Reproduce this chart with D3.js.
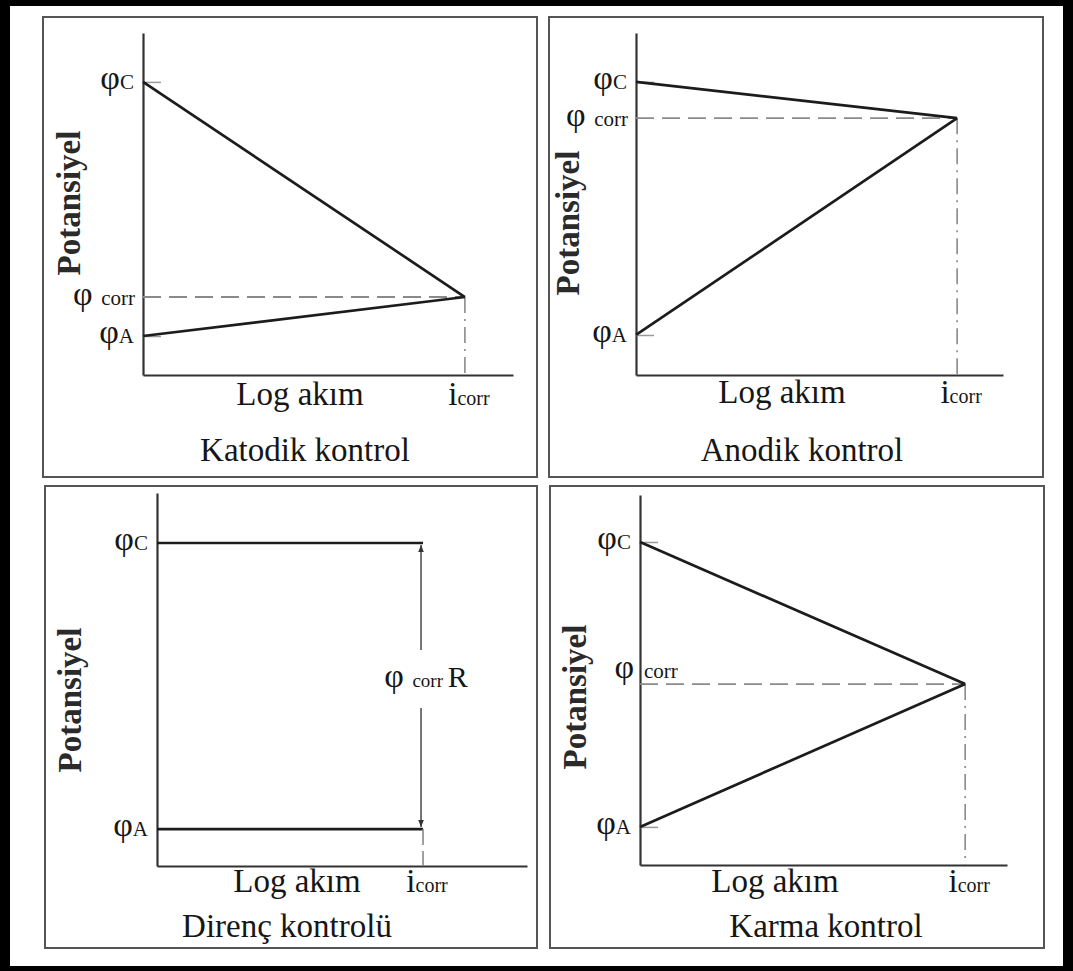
<!DOCTYPE html>
<html>
<head>
<meta charset="utf-8">
<script src="https://cdn.jsdelivr.net/npm/d3@7"></script>
<style>
  body { margin: 0; background: #fff; }
  text { font-family: "Liberation Serif", "Times New Roman", serif; fill: #161616; }
</style>
</head>
<body>
<div id="chart"></div>
<script>
// values (potential and log current on a 0..10 scale)
let panelNames = ["Katodik kontrol", "Anodik kontrol", "Direnç kontrolü", "Karma kontrol"];
let phiC    = [8.57, 8.57, 8.66, 8.73];
let phiCorr = [2.28, 7.51, null, 4.89];
let phiA    = [1.14, 1.17, 0.99, 1.03];
let iCorr   = [8.70, 8.75, 7.19, 8.86];
let yTitle = "Potansiyel";
let xTitle = "Log akım";

let svgWidth = 1073;
let svgHeight = 971;

// where each small diagram sits on the page
let layout = [
  {box: [43, 17, 494, 460],  ox: 143, oy: 375, w: 370, h: 342, ylab: [69, 203],  xlab: [300, 405], title: [305, 461]},
  {box: [549, 17, 494, 460], ox: 636, oy: 375, w: 367, h: 342, ylab: [568, 223], xlab: [782, 403], title: [802, 461]},
  {box: [45, 486, 492, 462], ox: 157, oy: 866, w: 370, h: 373, ylab: [70, 700],  xlab: [297, 892], title: [287, 937]},
  {box: [550, 486, 494, 462], ox: 640, oy: 865, w: 367, h: 370, ylab: [575, 697], xlab: [775, 892], title: [826, 937]}
];

let svg = d3.select("#chart")
  .append("svg")
  .attr("width", svgWidth)
  .attr("height", svgHeight);

// black frame
svg.append("rect").attr("width", svgWidth).attr("height", svgHeight).attr("fill", "#000");
svg.append("rect").attr("x", 10).attr("y", 6).attr("width", 1053).attr("height", 960).attr("fill", "#fff");

let defs = svg.append("defs");
defs.append("marker")
  .attr("id", "arrow")
  .attr("viewBox", "0 0 10 10")
  .attr("refX", 10).attr("refY", 5)
  .attr("markerWidth", 7).attr("markerHeight", 7)
  .attr("markerUnits", "userSpaceOnUse")
  .attr("orient", "auto")
  .append("path")
  .attr("d", "M0,1 L10,5 L0,9 Z")
  .attr("fill", "#333");

let lineColor = "#1c1c1c";
let dashColor = "#8a8a8a";
let phiSize = 34;

panelNames.forEach(function(name, i) {
  let L = layout[i];
  let g = svg.append("g");

  g.append("rect")
    .attr("x", L.box[0]).attr("y", L.box[1])
    .attr("width", L.box[2]).attr("height", L.box[3])
    .attr("fill", "none").attr("stroke", "#555").attr("stroke-width", 2);

  let x = d3.scaleLinear().domain([0, 10]).range([L.ox, L.ox + L.w]);
  let y = d3.scaleLinear().domain([0, 10]).range([L.oy, L.oy - L.h]);

  // axes: no numbers, only the lines and short marks at phiC / phiA
  let ticks = i === 2 ? [] : [phiC[i], phiA[i]];
  let leftAxis = d3.axisLeft(y).tickValues(ticks).tickFormat("").tickSize(-18).tickSizeOuter(0);
  let bottomAxis = d3.axisBottom(x).tickValues([]).tickSizeOuter(0);

  let ya = g.append("g").attr("transform", `translate(${L.ox},0)`).call(leftAxis);
  ya.select(".domain").attr("stroke", "#333").attr("stroke-width", 2.2);
  ya.selectAll(".tick line").attr("stroke", "#999").attr("stroke-width", 1.5);

  let xa = g.append("g").attr("transform", `translate(0,${L.oy})`).call(bottomAxis);
  xa.select(".domain").attr("stroke", "#333").attr("stroke-width", 2.2);

  let line = d3.line().x(d => x(d[0])).y(d => y(d[1]));

  if (phiCorr[i] !== null) {
    // dashed guide lines to the crossing point
    g.append("path")
      .attr("d", line([[0, phiCorr[i]], [iCorr[i], phiCorr[i]]]))
      .attr("stroke", dashColor).attr("stroke-width", 1.8)
      .attr("stroke-dasharray", "18,8").attr("fill", "none");
    g.append("path")
      .attr("d", line([[iCorr[i], phiCorr[i]], [iCorr[i], 0]]))
      .attr("stroke", dashColor).attr("stroke-width", 1.6)
      .attr("stroke-dasharray", "16,6,2,6").attr("fill", "none");

    // cathodic and anodic lines
    g.append("path")
      .attr("d", line([[0, phiC[i]], [iCorr[i], phiCorr[i]]]))
      .attr("stroke", lineColor).attr("stroke-width", 2.7).attr("fill", "none");
    g.append("path")
      .attr("d", line([[0, phiA[i]], [iCorr[i], phiCorr[i]]]))
      .attr("stroke", lineColor).attr("stroke-width", 2.7).attr("fill", "none");
  } else {
    // resistance control: two flat lines joined by an IR arrow
    g.append("path")
      .attr("d", line([[0, phiC[i]], [iCorr[i], phiC[i]]]))
      .attr("stroke", lineColor).attr("stroke-width", 2.7).attr("fill", "none");
    g.append("path")
      .attr("d", line([[0, phiA[i]], [iCorr[i], phiA[i]]]))
      .attr("stroke", lineColor).attr("stroke-width", 2.7).attr("fill", "none");
    g.append("path")
      .attr("d", line([[iCorr[i], phiA[i]], [iCorr[i], 0]]))
      .attr("stroke", dashColor).attr("stroke-width", 1.6)
      .attr("stroke-dasharray", "16,6").attr("fill", "none");

    let ax = x(iCorr[i]) - 2;
    let mid = (y(phiC[i]) + y(phiA[i])) / 2;
    g.append("line")
      .attr("x1", ax).attr("y1", mid - 36).attr("x2", ax).attr("y2", y(phiC[i]) + 2)
      .attr("stroke", "#555").attr("stroke-width", 1.6).attr("marker-end", "url(#arrow)");
    g.append("line")
      .attr("x1", ax).attr("y1", mid + 22).attr("x2", ax).attr("y2", y(phiA[i]) - 2)
      .attr("stroke", "#555").attr("stroke-width", 1.6).attr("marker-end", "url(#arrow)");

    let t = g.append("text").attr("x", ax + 5).attr("y", mid + 1).attr("text-anchor", "middle");
    t.append("tspan").attr("font-size", phiSize).text("φ ");
    t.append("tspan").attr("font-size", 19).text("corr ");
    t.append("tspan").attr("font-size", 30).text("R");
  }

  // potential labels on the left of the axis
  let tc = g.append("text").attr("x", L.ox - 9).attr("y", y(phiC[i]) + 7).attr("text-anchor", "end");
  tc.append("tspan").attr("font-size", phiSize).text("φ");
  tc.append("tspan").attr("font-size", 21).text("C");

  let ta = g.append("text").attr("x", L.ox - 9).attr("y", y(phiA[i]) + 7).attr("text-anchor", "end");
  ta.append("tspan").attr("font-size", phiSize).text("φ");
  ta.append("tspan").attr("font-size", 21).text("A");

  if (phiCorr[i] !== null) {
    if (i === 3) {
      // in the mixed panel the subscript sits inside the axis, above the dash
      g.append("text").attr("x", L.ox - 6).attr("y", y(phiCorr[i]) - 6)
        .attr("text-anchor", "end").attr("font-size", phiSize).text("φ");
      g.append("text").attr("x", L.ox + 4).attr("y", y(phiCorr[i]) - 6)
        .attr("font-size", 21).text("corr");
    } else {
      let tr = g.append("text").attr("x", L.ox - 8).attr("y", y(phiCorr[i]) + 8).attr("text-anchor", "end");
      tr.append("tspan").attr("font-size", phiSize).text("φ ");
      tr.append("tspan").attr("font-size", 21).text("corr");
    }
  }

  // i corr under the x axis
  let ti = g.append("text").attr("x", x(iCorr[i]) + 4).attr("y", L.xlab[1]).attr("text-anchor", "middle");
  ti.append("tspan").attr("font-size", 33).text("i");
  ti.append("tspan").attr("font-size", 20).text("corr");

  g.append("text")
    .attr("x", L.xlab[0]).attr("y", L.xlab[1])
    .attr("text-anchor", "middle").attr("font-size", 33)
    .text(xTitle);

  g.append("text")
    .attr("transform", `translate(${L.ylab[0]},${L.ylab[1]}) rotate(-90)`)
    .attr("text-anchor", "middle").attr("dominant-baseline", "central")
    .attr("font-size", 33).attr("font-weight", "bold")
    .style("fill", "#2a2a2a")
    .text(yTitle);

  g.append("text")
    .attr("x", L.title[0]).attr("y", L.title[1])
    .attr("text-anchor", "middle").attr("font-size", 33)
    .text(name);
});
</script>
</body>
</html>
